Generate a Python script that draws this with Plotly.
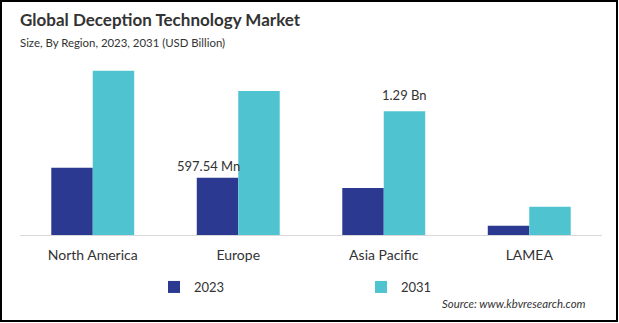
import plotly.graph_objects as go

regions = ["North America", "Europe", "Asia Pacific", "LAMEA"]
values_2023 = [0.70, 0.5975, 0.49, 0.097]
values_2031 = [1.71, 1.50, 1.29, 0.295]
labels_2023 = ["", "597.54 Mn", "", ""]
labels_2031 = ["", "", "1.29 Bn", ""]

W, H = 619, 323
ML, MR, MT, MB = 20, 17, 60, 88
PW = W - ML - MR
PH = H - MT - MB

FONT = "Lato, 'Open Sans', sans-serif"
C23 = "#2b3990"
C31 = "#4fc3d0"

fig = go.Figure()
fig.add_trace(go.Bar(name="2023", x=regions, y=values_2023, marker_color=C23,
                     marker_line_width=0))
fig.add_trace(go.Bar(name="2031", x=regions, y=values_2031, marker_color=C31,
                     marker_line_width=0))

off = 0.1426
for i, t in enumerate(labels_2023):
    if t:
        fig.add_annotation(x=i - off - 0.06, y=values_2023[i], xref="x", yref="y", text=t,
                           showarrow=False, yanchor="bottom", yshift=2,
                           font=dict(family=FONT, size=13, color="#333333"))
for i, t in enumerate(labels_2031):
    if t:
        fig.add_annotation(x=i + off, y=values_2031[i], xref="x", yref="y", text=t,
                           showarrow=False, yanchor="bottom", yshift=6,
                           font=dict(family=FONT, size=13, color="#333333"))

def px_to_paper_x(px):
    return (px - ML) / PW

def px_to_paper_y(py):
    return (H - py - MB) / PH

fig.add_annotation(x=px_to_paper_x(18), y=px_to_paper_y(20), xref="paper", yref="paper",
                   text="<b>Global Deception Technology Market</b>", showarrow=False,
                   xanchor="left", yanchor="middle",
                   font=dict(family=FONT, size=17, color="#333333"))
fig.add_annotation(x=px_to_paper_x(18), y=px_to_paper_y(43), xref="paper", yref="paper",
                   text="Size, By Region, 2023, 2031 (USD Billion)", showarrow=False,
                   xanchor="left", yanchor="middle",
                   font=dict(family=FONT, size=11.4, color="#333333"))
fig.add_annotation(x=px_to_paper_x(588), y=px_to_paper_y(303), xref="paper", yref="paper",
                   text="<i>Source: www.kbvresearch.com</i>", showarrow=False,
                   xanchor="right", yanchor="middle",
                   font=dict(family=FONT, size=11.4, color="#333333"))

fig.add_shape(type="rect", xref="paper", yref="paper",
              x0=px_to_paper_x(1), x1=px_to_paper_x(617),
              y0=px_to_paper_y(1), y1=px_to_paper_y(321),
              line=dict(color="black", width=2), layer="above")

fig.update_layout(
    width=W, height=H,
    margin=dict(l=ML, r=MR, t=MT, b=MB),
    paper_bgcolor="white", plot_bgcolor="white",
    barmode="group", bargap=0.43, bargroupgap=0,
    showlegend=True,
    legend=dict(orientation="h", x=px_to_paper_x(154), y=px_to_paper_y(287),
                xanchor="left", yanchor="middle", entrywidth=162, entrywidthmode="pixels",
                itemwidth=30, font=dict(family=FONT, size=13, color="#333333"),
                bgcolor="rgba(0,0,0,0)"),
    xaxis=dict(showline=True, linecolor="#d9d9d9", linewidth=1, ticks="",
               showgrid=False, ticklabelstandoff=7,
               tickfont=dict(family=FONT, size=14, color="#333333")),
    yaxis=dict(visible=False, range=[0, PH / 96.0], showgrid=False, zeroline=False),
    font=dict(family=FONT),
)

fig.write_html("out.html")
